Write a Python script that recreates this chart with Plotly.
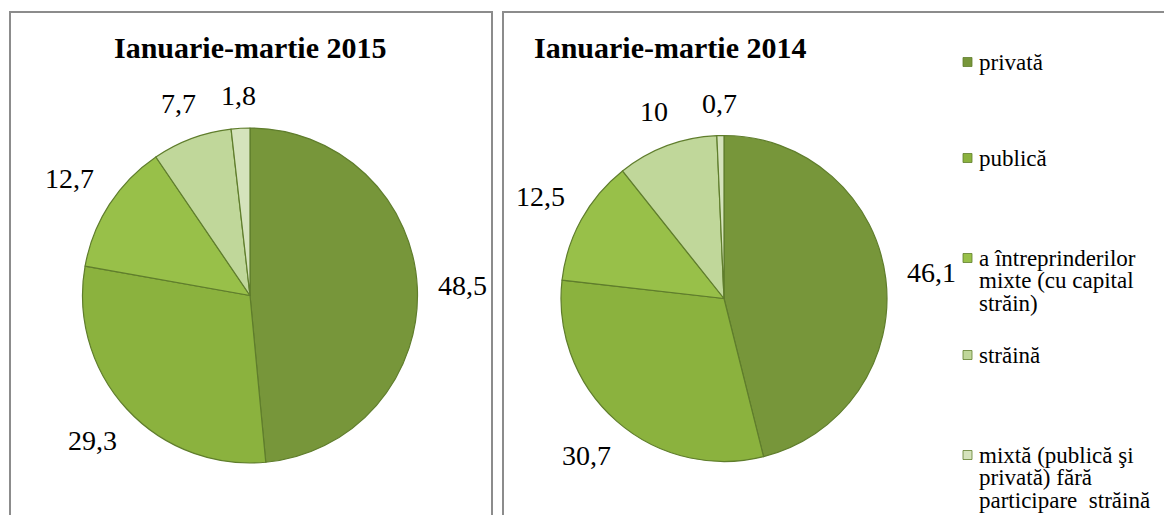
import numpy as np
import plotly.graph_objects as go

# ---------------- data ----------------
categories = [
    "privată",
    "publică",
    "a întreprinderilor mixte (cu capital străin)",
    "străină",
    "mixtă (publică şi privată) fără participare  străină",
]
values_2015 = [48.5, 29.3, 12.7, 7.7, 1.8]
values_2014 = [46.1, 30.7, 12.5, 10.0, 0.7]
titles = ["Ianuarie-martie 2015", "Ianuarie-martie 2014"]
legend_lines = [
    ["privată"],
    ["publică"],
    ["a întreprinderilor", "mixte (cu capital", "străin)"],
    ["străină"],
    ["mixtă (publică şi", "privată) fără", "participare  străină"],
]
colors = ["#77963A", "#8BB23E", "#98C049", "#C0D79A", "#D5E3BC"]

# ---------------- layout constants (pixels) ----------------
W, H = 1164, 515
pies = [
    dict(values=values_2015, cx=250, cy=295.5, r=167.5, tx=250, ty=47),
    dict(values=values_2014, cx=724, cy=298.5, r=163, tx=670, ty=47),
]
FONT = "Liberation Serif"
LABEL_SIZE = 28


def px(x, y):
    return x / W, 1 - y / H


def fmt(v):
    return ("%g" % v).replace(".", ",")


fig = go.Figure()
annotations = []
shapes = []

for i, p in enumerate(pies):
    cx, cy, r = p["cx"], p["cy"], p["r"]
    fig.add_trace(go.Pie(
        labels=categories,
        values=p["values"],
        sort=False,
        direction="clockwise",
        rotation=0,
        textinfo="none",
        marker=dict(colors=colors, line=dict(color="#5F7D2C", width=1.2)),
        domain=dict(x=[(cx - r) / W, (cx + r) / W],
                    y=[1 - (cy + r) / H, 1 - (cy - r) / H]),
        showlegend=False,
        hovertemplate="%{label}: %{value}<extra></extra>",
    ))
    # title
    tx, ty = px(p["tx"], p["ty"])
    annotations.append(dict(
        text="<b>%s</b>" % titles[i], x=tx, y=ty, xref="paper", yref="paper",
        xanchor="center", yanchor="middle", showarrow=False,
        font=dict(family=FONT, size=30, color="black")))
    # value labels placed outside each slice
    vals = np.array(p["values"], dtype=float)
    total = vals.sum()
    cum = np.cumsum(vals)
    for v, c in zip(vals, cum):
        theta = 2 * np.pi * (c - v / 2) / total
        dx, dy = np.sin(theta), np.cos(theta)
        t = fmt(v)
        nd = sum(ch.isdigit() for ch in t)
        w = LABEL_SIZE * (0.5 * nd + 0.25 * (t.count(",")))
        h = 24
        dist = r + 20 + abs(dx) * w / 2 + abs(dy) * h / 2
        lx, ly = px(cx + dx * dist, cy - dy * dist)
        annotations.append(dict(
            text=t, x=lx, y=ly, xref="paper", yref="paper",
            xanchor="center", yanchor="middle", showarrow=False,
            font=dict(family=FONT, size=LABEL_SIZE, color="black")))

# boxes around the two charts
shapes.append(dict(type="rect", xref="paper", yref="paper",
                   x0=10 / W, x1=492 / W, y0=-0.1, y1=1 - 12 / H,
                   line=dict(color="#8C8C8C", width=2), fillcolor="rgba(0,0,0,0)"))
shapes.append(dict(type="rect", xref="paper", yref="paper",
                   x0=503 / W, x1=1.05, y0=-0.1, y1=1 - 12 / H,
                   line=dict(color="#8C8C8C", width=2), fillcolor="rgba(0,0,0,0)"))

# legend (manual)
legend_first_y = [62, 158, 258, 355, 455]
LINE_H = 22.5
for lines, col, y0 in zip(legend_lines, colors, legend_first_y):
    shapes.append(dict(type="rect", xref="paper", yref="paper",
                       x0=963 / W, x1=972 / W,
                       y0=1 - (y0 + 4.5) / H, y1=1 - (y0 - 4.5) / H,
                       line=dict(color="#5F7D2C", width=0.8), fillcolor=col))
    for k, line in enumerate(lines):
        lx, ly = px(977, y0 + k * LINE_H)
        annotations.append(dict(
            text=line, x=lx, y=ly, xref="paper", yref="paper",
            xanchor="left", yanchor="middle", showarrow=False,
            font=dict(family=FONT, size=23, color="black")))

fig.update_layout(
    width=W, height=H,
    margin=dict(l=0, r=0, t=0, b=0),
    paper_bgcolor="white", plot_bgcolor="white",
    showlegend=False,
    annotations=annotations,
    shapes=shapes,
)

fig.write_html("out.html", config={"displayModeBar": False},
               post_script="document.body.style.margin='0px';")
